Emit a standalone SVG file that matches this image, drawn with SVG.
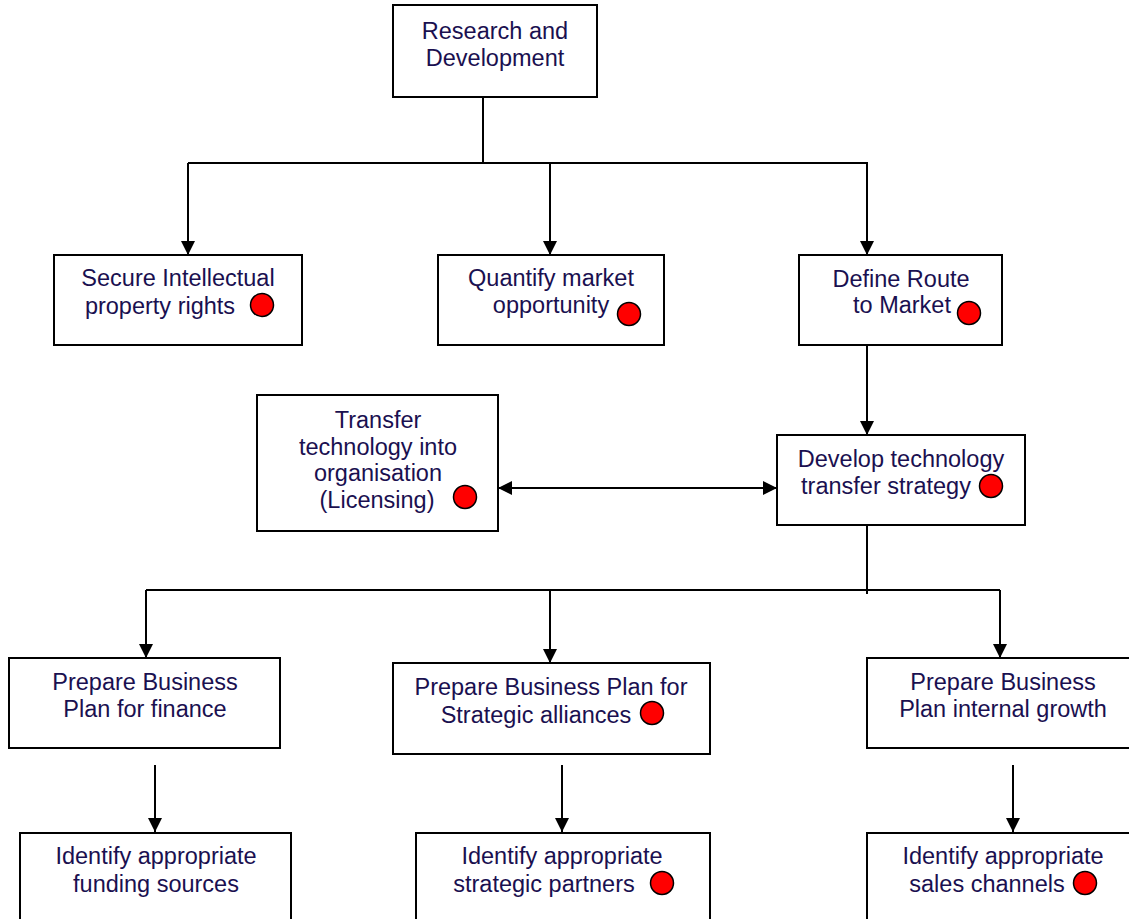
<svg xmlns="http://www.w3.org/2000/svg" width="1129" height="919" viewBox="0 0 1129 919">
<style>
.box{fill:#fff;stroke:#000;stroke-width:2}
.t{font-family:"Liberation Sans",Arial,sans-serif;font-size:23.5px;fill:#1a1050;text-anchor:middle}
.dot{fill:#ff0000;stroke:#000;stroke-width:1.5}
.ln{fill:none;stroke:#000;stroke-width:2}
</style>
<defs>
<marker id="ah" viewBox="0 0 14 14" refX="14" refY="7" markerWidth="14" markerHeight="14" markerUnits="userSpaceOnUse" orient="auto-start-reverse">
<path d="M0,0 L14,7 L0,14 Z" fill="#000"/>
</marker>
</defs>
<rect width="1129" height="919" fill="#fff"/>
<g id="connectors">
<path class="ln" d="M483,97 V163 M188,163 H868"/>
<path class="ln" d="M188,163 V255" marker-end="url(#ah)"/>
<path class="ln" d="M550,163 V255" marker-end="url(#ah)"/>
<path class="ln" d="M867,163 V255" marker-end="url(#ah)"/>
<path class="ln" d="M867,345 V435" marker-end="url(#ah)"/>
<path class="ln" d="M498,488 H777" marker-start="url(#ah)" marker-end="url(#ah)"/>
<path class="ln" d="M867,525 V594 M146,590 H1000"/>
<path class="ln" d="M146,590 V658" marker-end="url(#ah)"/>
<path class="ln" d="M550,590 V663" marker-end="url(#ah)"/>
<path class="ln" d="M1000,590 V658" marker-end="url(#ah)"/>
<path class="ln" d="M155,765 V832" marker-end="url(#ah)"/>
<path class="ln" d="M562,765 V832" marker-end="url(#ah)"/>
<path class="ln" d="M1013,765 V832" marker-end="url(#ah)"/>
</g>
<g id="rd">
<rect class="box" x="393" y="5" width="204" height="92"/>
<text class="t" x="495" y="39">Research and</text>
<text class="t" x="495" y="66">Development</text>
</g>
<g id="secure">
<rect class="box" x="54" y="255" width="248" height="90"/>
<text class="t" x="178" y="286">Secure Intellectual</text>
<text class="t" x="160" y="314">property rights</text>
<circle class="dot" cx="262" cy="305" r="11.5"/>
</g>
<g id="quantify">
<rect class="box" x="438" y="255" width="226" height="90"/>
<text class="t" x="551" y="286">Quantify market</text>
<text class="t" x="551" y="313">opportunity</text>
<circle class="dot" cx="629" cy="314" r="11.5"/>
</g>
<g id="define">
<rect class="box" x="799" y="255" width="203" height="90"/>
<text class="t" x="901" y="287">Define Route</text>
<text class="t" x="902" y="313">to Market</text>
<circle class="dot" cx="969" cy="313" r="11.5"/>
</g>
<g id="transfer">
<rect class="box" x="257" y="395" width="241" height="136"/>
<text class="t" x="378" y="428">Transfer</text>
<text class="t" x="378" y="455">technology into</text>
<text class="t" x="378" y="481">organisation</text>
<text class="t" x="377" y="508">(Licensing)</text>
<circle class="dot" cx="465" cy="497" r="11.5"/>
</g>
<g id="develop">
<rect class="box" x="777" y="435" width="248" height="90"/>
<text class="t" x="901" y="467">Develop technology</text>
<text class="t" x="886" y="494">transfer strategy</text>
<circle class="dot" cx="991" cy="486" r="11.5"/>
</g>
<g id="finance">
<rect class="box" x="9" y="658" width="271" height="90"/>
<text class="t" x="145" y="690">Prepare Business</text>
<text class="t" x="145" y="717">Plan for finance</text>
</g>
<g id="alliances">
<rect class="box" x="393" y="663" width="317" height="91"/>
<text class="t" x="551" y="695">Prepare Business Plan for</text>
<text class="t" x="536" y="723">Strategic alliances</text>
<circle class="dot" cx="652" cy="713" r="11.5"/>
</g>
<g id="internal">
<rect class="box" x="867" y="658" width="280" height="90"/>
<text class="t" x="1003" y="690">Prepare Business</text>
<text class="t" x="1003" y="717">Plan internal growth</text>
</g>
<g id="funding">
<rect class="box" x="20" y="833" width="271" height="100"/>
<text class="t" x="156" y="864">Identify appropriate</text>
<text class="t" x="156" y="892">funding sources</text>
</g>
<g id="partners">
<rect class="box" x="416" y="833" width="294" height="100"/>
<text class="t" x="562" y="864">Identify appropriate</text>
<text class="t" x="544" y="892">strategic partners</text>
<circle class="dot" cx="662" cy="883" r="11.5"/>
</g>
<g id="sales">
<rect class="box" x="867" y="833" width="280" height="100"/>
<text class="t" x="1003" y="864">Identify appropriate</text>
<text class="t" x="987" y="892">sales channels</text>
<circle class="dot" cx="1085" cy="883" r="11.5"/>
</g>
</svg>
